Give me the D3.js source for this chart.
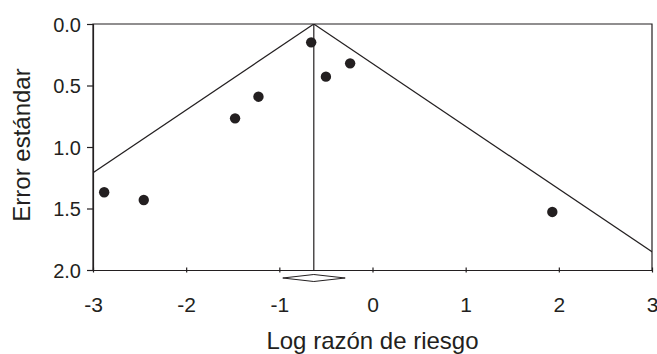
<!DOCTYPE html>
<html>
<head>
<meta charset="utf-8">
<script src="https://cdn.jsdelivr.net/npm/d3@7"></script>
<style>
  body { margin: 0; background: #fff; }
  svg text { font-family: "Liberation Sans", Arial, sans-serif; fill: #231f20; }
</style>
</head>
<body>
<svg id="chart" width="657" height="354"></svg>
<script>
// log risk ratio and standard error for each study
const logRR = [-2.88, -2.455, -1.475, -1.224, -0.658, -0.50, -0.24, 1.93];
const stdErr = [1.368, 1.431, 0.767, 0.591, 0.149, 0.428, 0.32, 1.528];
const pooled = -0.63;
const pooledCI = [-0.963, -0.293];
const xTicks = [-3, -2, -1, 0, 1, 2, 3];
const yTicks = [0.0, 0.5, 1.0, 1.5, 2.0];

const svg = d3.select('#chart');
const plotL = 93, plotR = 652, plotT = 24, plotB = 270;
const ink = '#231f20';

const x = d3.scaleLinear().domain([-3, 3]).range([plotL, plotR]);
const y = d3.scaleLinear().domain([0, 2]).range([plotT, plotB]);

svg.append('clipPath').attr('id', 'plotclip')
  .append('rect').attr('x', plotL).attr('y', plotT)
  .attr('width', plotR - plotL).attr('height', plotB - plotT);

// funnel: pooled +/- 1.96 * se
const funnel = svg.append('g').attr('clip-path', 'url(#plotclip)');
[-1, 1].forEach(function(side) {
  funnel.append('line')
    .attr('x1', x(pooled)).attr('y1', y(0))
    .attr('x2', x(pooled + side * 1.96 * 2)).attr('y2', y(2))
    .attr('stroke', ink).attr('stroke-width', 1.2);
});
funnel.append('line')
  .attr('x1', x(pooled)).attr('x2', x(pooled))
  .attr('y1', y(0)).attr('y2', y(2))
  .attr('stroke', ink).attr('stroke-width', 1.2);

// frame
svg.append('path')
  .attr('d', 'M' + plotL + ',' + plotB + 'V' + plotT + 'H' + plotR + 'V' + plotB)
  .attr('fill', 'none').attr('stroke', ink).attr('stroke-width', 1.2);

// x axis
const xAxis = svg.append('g').attr('transform', 'translate(0,' + plotB + ')')
  .call(d3.axisBottom(x).tickValues(xTicks).tickSize(0).tickPadding(0).tickFormat(d3.format('d')));
xAxis.select('.domain').attr('stroke', ink).attr('stroke-width', 1.2);
xAxis.selectAll('.tick line').attr('y1', -2.5).attr('y2', 2.5).attr('stroke', ink).attr('stroke-width', 1.2);
xAxis.selectAll('.tick text').attr('y', 42).attr('dy', null).attr('font-size', 21)
  .text(function(d) { return d < 0 ? '-' + Math.abs(d) : d; });

// y axis
const yAxis = svg.append('g').attr('transform', 'translate(' + plotL + ',0)')
  .call(d3.axisLeft(y).tickValues(yTicks).tickSize(6).tickPadding(6).tickFormat(d3.format('.1f')));
yAxis.select('.domain').attr('stroke', ink).attr('stroke-width', 1.2);
yAxis.selectAll('.tick line').attr('stroke', ink).attr('stroke-width', 1.2);
yAxis.selectAll('.tick text').attr('font-size', 20).attr('dy', '0.36em');

// pooled estimate diamond
const dh = 3.5, dc = plotB + 8;
svg.append('path')
  .attr('d', 'M' + x(pooledCI[0]) + ',' + dc + 'L' + x(pooled) + ',' + (dc - dh) +
    'L' + x(pooledCI[1]) + ',' + dc + 'L' + x(pooled) + ',' + (dc + dh) + 'Z')
  .attr('fill', '#fff').attr('stroke', ink).attr('stroke-width', 1);

// studies
svg.append('g').selectAll('circle')
  .data(logRR)
  .join('circle')
  .attr('cx', function(d) { return x(d); })
  .attr('cy', function(d, i) { return y(stdErr[i]); })
  .attr('r', 5.2)
  .attr('fill', ink);

// axis titles
svg.append('text')
  .attr('x', (plotL + plotR) / 2).attr('y', 349)
  .attr('text-anchor', 'middle').attr('font-size', 24)
  .text('Log razón de riesgo');

svg.append('text')
  .attr('transform', 'translate(30,' + ((plotT + plotB) / 2 - 2) + ') rotate(-90)')
  .attr('text-anchor', 'middle').attr('font-size', 24)
  .text('Error estándar');
</script>
</body>
</html>
